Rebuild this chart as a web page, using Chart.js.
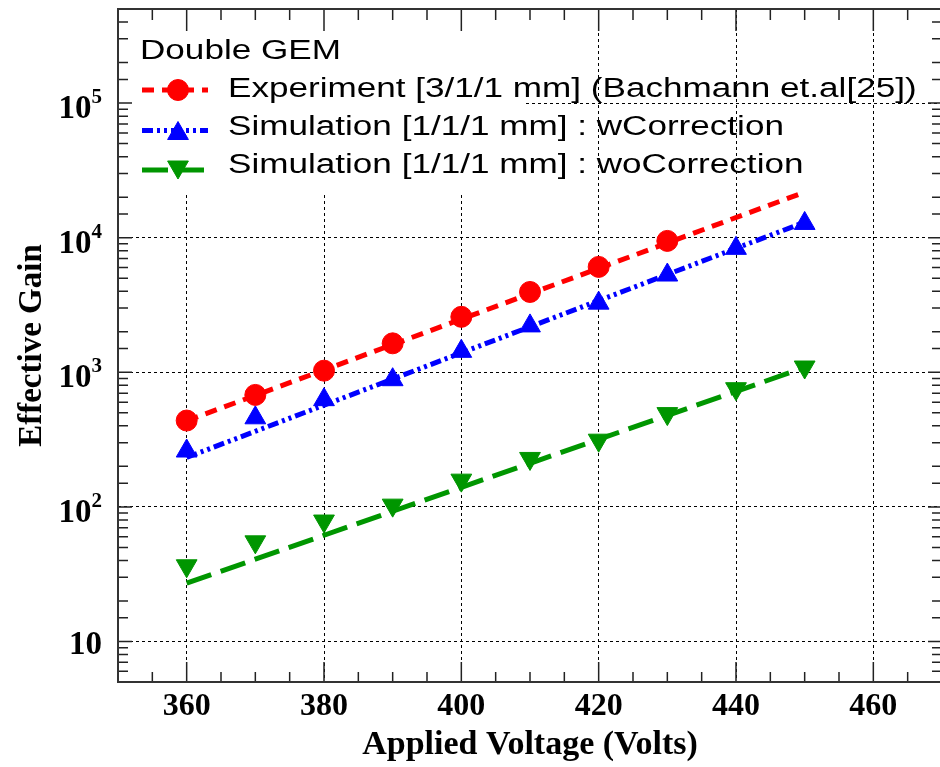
<!DOCTYPE html>
<html lang="en">
<head>
<meta charset="UTF-8">
<title>Double GEM - Effective Gain</title>
<style>
  html, body { margin: 0; padding: 0; overflow: hidden; background: #fff; }
  .chartBox { width: 944px; height: 767px; }
  canvas { display: block; }
</style>
</head>
<body>
<div class="chartBox"><canvas id="myChart" width="944" height="767"></canvas></div>
<script src="https://cdn.jsdelivr.net/npm/chart.js"></script>
<script>
// values
const voltages = [360, 370, 380, 390, 400, 410, 420, 430, 440, 450];
const experimentGain = [438, 679, 1028, 1641, 2582, 3951, 6067, 9465];
const simWithCorr = [260, 459, 626, 881, 1431, 2211, 3264, 5279, 8332, 12760];
const simWithoutCorr = [36.5, 55, 78.5, 103, 158, 229, 313, 493, 755, 1094];
// straight fit lines (end points)
const fitVoltages = [360, 450];
const experimentFit = [436, 21800];
const withCorrFit = [233, 13030];
const withoutCorrFit = [27.1, 1086];

const xLabels = [360, 380, 400, 420, 440, 460];
const yDecades = [10, 100, 1000, 10000, 100000];
const legendTitle = 'Double GEM';
const seriesNames = [
  'Experiment [3/1/1 mm] (Bachmann et.al[25])',
  'Simulation [1/1/1 mm] : wCorrection',
  'Simulation [1/1/1 mm] : woCorrection'
];

const RED = '#ff0000', BLUE = '#0000ff', GREEN = '#009600';
const serif = '"Liberation Serif", "Times New Roman", serif';

const pts = (xs, ys) => ys.map((y, i) => ({ x: xs[i], y: y }));
const isDecade = v => { const l = Math.log10(v); return Math.abs(l - Math.round(l)) < 1e-9; };

function markerSet(label, data, color, style, r, rot) {
  return {
    label: label, data: data, showLine: false,
    pointStyle: style, pointRadius: r, pointRotation: rot || 0,
    pointBackgroundColor: color, pointBorderColor: color, pointBorderWidth: 1,
    borderColor: color, backgroundColor: color
  };
}
function fitSet(label, data, color, dash) {
  return {
    label: label, data: data, borderColor: color, borderWidth: 5,
    borderDash: dash, pointRadius: 0, fill: false, tension: 0
  };
}

const datasets = [
  markerSet(seriesNames[0], pts(voltages, experimentGain), RED, 'circle', 10.5),
  markerSet(seriesNames[1], pts(voltages, simWithCorr), BLUE, 'triangle', 12),
  markerSet(seriesNames[2], pts(voltages, simWithoutCorr), GREEN, 'triangle', 12, 180),
  fitSet('fit exp', pts(fitVoltages, experimentFit), RED, [12, 8]),
  fitSet('fit w', pts(fitVoltages, withCorrFit), BLUE, [11, 4, 3, 4, 3, 4]),
  fitSet('fit wo', pts(fitVoltages, withoutCorrFit), GREEN, [26, 10])
];

const legendBox = { right: 525, bottom: 193 };

function drawMarker(ctx, ds, x, y) {
  ctx.fillStyle = ds.pointBackgroundColor;
  ctx.strokeStyle = ds.pointBorderColor;
  ctx.lineWidth = 1;
  ctx.setLineDash([]);
  Chart.helpers.drawPoint(ctx, {
    pointStyle: ds.pointStyle, radius: ds.pointRadius,
    rotation: ds.pointRotation, borderWidth: 1
  }, x, y);
}

const gemDecor = {
  id: 'gemDecor',
  beforeDatasetsDraw(chart) {
    const { ctx, chartArea: a } = chart;
    ctx.save();
    ctx.fillStyle = '#fff';
    ctx.fillRect(a.left + 1, a.top + 1, legendBox.right - a.left, legendBox.bottom - a.top);
    ctx.restore();
  },
  afterDatasetsDraw(chart) {
    const { ctx, chartArea: a, scales: { x, y } } = chart;
    ctx.save();
    // inner tick marks on all four sides
    ctx.strokeStyle = '#222';
    ctx.lineWidth = 1.5;
    ctx.beginPath();
    x.ticks.forEach(t => {
      const px = x.getPixelForValue(t.value);
      if (px <= a.left + 1 || px >= a.right - 1) return;
      const major = t.value % 20 === 0;
      ctx.moveTo(px, a.bottom); ctx.lineTo(px, a.bottom - (major ? 20 : 10));
      ctx.moveTo(px, a.top); ctx.lineTo(px, a.top + (major ? 22 : 11));
    });
    y.ticks.forEach(t => {
      const py = y.getPixelForValue(t.value);
      if (py <= a.top + 1 || py >= a.bottom - 1) return;
      const len = isDecade(t.value) ? 14 : 10;
      ctx.moveTo(a.left, py); ctx.lineTo(a.left + len, py);
      ctx.moveTo(a.right, py); ctx.lineTo(a.right - len, py);
    });
    ctx.stroke();
    // frame
    ctx.strokeStyle = '#333';
    ctx.lineWidth = 2;
    ctx.strokeRect(a.left, a.top, a.right - a.left, a.bottom - a.top);

    // y tick labels as 10 with a raised exponent
    ctx.fillStyle = '#000';
    ctx.textAlign = 'right';
    ctx.textBaseline = 'alphabetic';
    const rx = a.left - 16;
    yDecades.forEach(v => {
      const py = y.getPixelForValue(v);
      const e = Math.round(Math.log10(v));
      if (e === 1) {
        ctx.font = 'bold 33px ' + serif;
        ctx.fillText('10', rx, py + 13);
      } else {
        ctx.font = 'bold 21px ' + serif;
        const sup = String(e);
        const w = ctx.measureText(sup).width;
        ctx.fillText(sup, rx, py);
        ctx.font = 'bold 33px ' + serif;
        ctx.fillText('10', rx - w, py + 15);
      }
    });
    ctx.restore();
  },
  afterDraw(chart) {
    const { ctx } = chart;
    const ds = chart.data.datasets;
    ctx.save();
    ctx.fillStyle = '#000';
    ctx.textAlign = 'left';
    ctx.textBaseline = 'alphabetic';
    ctx.font = '27px "Liberation Sans", Arial, sans-serif';
    const stretched = (txt, tx, ty) => {
      ctx.save();
      ctx.translate(tx, ty);
      ctx.scale(1.3, 1);
      ctx.fillText(txt, 0, 0);
      ctx.restore();
    };
    stretched(legendTitle, 140, 59);
    const rows = [
      { m: ds[0], l: ds[3], y: 90, base: 97 },
      { m: ds[1], l: ds[4], y: 130.5, base: 135 },
      { m: ds[2], l: ds[5], y: 170, base: 173 }
    ];
    rows.forEach(r => {
      ctx.save();
      ctx.strokeStyle = r.l.borderColor;
      ctx.lineWidth = r.l.borderWidth;
      ctx.setLineDash(r.l.borderDash);
      ctx.beginPath();
      ctx.moveTo(142, r.y); ctx.lineTo(208, r.y);
      ctx.stroke();
      drawMarker(ctx, r.m, 178, r.m.pointStyle === 'circle' ? r.y : r.y + (r.m.pointRotation ? -3 : 3));
      ctx.restore();
      ctx.fillStyle = '#000';
      stretched(r.m.label, 228, r.base);
    });
    ctx.restore();
  }
};

const ctx = document.getElementById('myChart').getContext('2d');
const myChart = new Chart(ctx, {
  type: 'line',
  data: { datasets: datasets },
  options: {
    responsive: false,
    animation: false,
    devicePixelRatio: 1,
    layout: { autoPadding: false, padding: { top: 9, right: 2, left: 0, bottom: 0 } },
    plugins: { legend: { display: false }, tooltip: { enabled: false } },
    scales: {
      x: {
        type: 'linear', min: 350, max: 470,
        ticks: {
          stepSize: 5, autoSkip: false, maxRotation: 0, padding: 6, color: '#000',
          font: { family: serif, size: 32, weight: 'bold' },
          callback: v => xLabels.includes(v) ? String(v) : ''
        },
        grid: {
          drawTicks: false, lineWidth: 1,
          color: c => (c.tick && xLabels.includes(c.tick.value)) ? '#000' : 'rgba(0,0,0,0)'
        },
        border: { display: false, dash: [3, 3] },
        title: {
          display: true, text: 'Applied Voltage (Volts)', color: '#000',
          font: { family: serif, size: 34, weight: 'bold' },
          padding: { top: 0, bottom: 1 }
        },
        afterFit: s => { s.height = 85; s.paddingLeft = 0; s.paddingRight = 0; }
      },
      y: {
        type: 'logarithmic', min: 5, max: 500000,
        ticks: { display: false, autoSkip: false },
        grid: {
          drawTicks: false, lineWidth: 1,
          color: c => (c.tick && isDecade(c.tick.value)) ? '#000' : 'rgba(0,0,0,0)'
        },
        border: { display: false, dash: [3, 3] },
        title: {
          display: true, text: 'Effective Gain', color: '#000',
          font: { family: serif, size: 33, weight: 'bold' },
          padding: { top: 13, bottom: 0 }
        },
        afterFit: s => { s.width = 118; s.paddingTop = 0; s.paddingBottom = 0; }
      }
    }
  },
  plugins: [gemDecor]
});
</script>
</body>
</html>
